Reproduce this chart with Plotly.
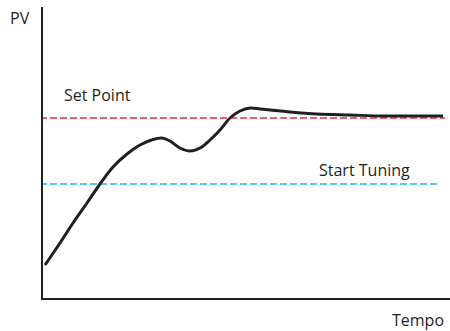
import plotly.graph_objects as go

# curve (tempo, PV) in arbitrary units
tempo = [2, 17, 30, 44, 57, 70, 84, 97, 110, 119, 127, 137, 147, 157, 167, 177, 187, 197, 207, 217, 227, 247, 274, 307, 340, 374, 400]
pv = [33, 55, 75, 95, 114, 131, 144, 153, 158.5, 160, 157, 150, 147, 150, 158, 168, 180, 187, 190, 189, 188, 186, 184, 183, 182, 182, 182]

set_point = 180
start_tuning = 114

ink = "#231f20"
font = dict(family="Open Sans", size=16, color=ink)

fig = go.Figure()
fig.add_trace(go.Scatter(x=[-3, 402], y=[set_point, set_point], mode="lines",
                         line=dict(color="#e2323f", width=1.5, dash="7px,3px")))
fig.add_trace(go.Scatter(x=[-3, 396], y=[start_tuning, start_tuning], mode="lines",
                         line=dict(color="#27b5e6", width=1.5, dash="7px,3px")))
fig.add_trace(go.Scatter(x=tempo, y=pv, mode="lines",
                         line=dict(color=ink, width=3, shape="spline", smoothing=1.0)))

fig.add_annotation(x=19, y=203, text="Set Point", showarrow=False, xanchor="left", font=font)
fig.add_annotation(x=274, y=128, text="Start Tuning", showarrow=False, xanchor="left", font=font)
fig.add_annotation(x=0.99, y=-0.0756, xref="paper", yref="paper", text="Tempo", showarrow=False,
                   xanchor="right", yanchor="middle", font=font)
fig.add_annotation(x=-0.027, y=0.962, xref="paper", yref="paper", text="PV", showarrow=False,
                   xanchor="right", yanchor="middle", font=font)

fig.update_layout(
    width=450, height=331,
    margin=dict(l=43, r=0, t=7, b=33),
    plot_bgcolor="white", paper_bgcolor="white",
    showlegend=False,
)
fig.update_xaxes(range=[0, 407], showline=True, linecolor=ink, linewidth=2,
                 showgrid=False, zeroline=False, showticklabels=False, ticks="")
fig.update_yaxes(range=[0, 291], showline=True, linecolor=ink, linewidth=2,
                 showgrid=False, zeroline=False, showticklabels=False, ticks="")

fig.write_html("out.html", config={"displayModeBar": False},
               post_script="document.body.style.margin='0';")
